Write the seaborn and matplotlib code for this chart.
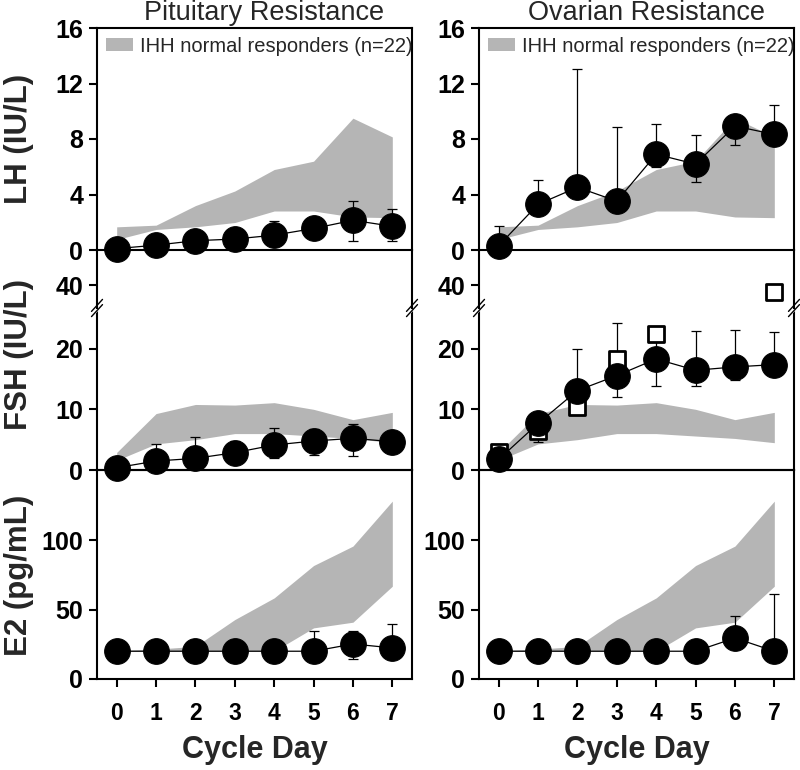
import numpy as np
import pandas as pd
import matplotlib
matplotlib.use("Agg")
import matplotlib.pyplot as plt
import seaborn as sns
from matplotlib.patches import Patch

# ---------------- data ----------------
days = [0, 1, 2, 3, 4, 5, 6, 7]
day_labels = ["0", "1", "2", "3", "4", "5", "6", "7"]

# IHH normal responders (n=22) range bands
lh_band_low = [0.76, 1.48, 1.67, 1.98, 2.81, 2.81, 2.38, 2.33]
lh_band_high = [1.67, 1.79, 3.2, 4.25, 5.8, 6.4, 9.5, 8.15]
fsh_band_low = [1.6, 4.3, 5.0, 6.0, 6.0, 5.6, 5.2, 4.5]
fsh_band_high = [2.9, 9.3, 10.8, 10.7, 11.1, 10.0, 8.3, 9.5]
e2_band_low = [20, 20, 20, 20, 20, 36.8, 40.9, 66.8]
e2_band_high = [20.5, 21.5, 23.5, 42.8, 58.4, 81.7, 95.7, 128.1]

# Pituitary resistance
pit_lh = [0.1, 0.35, 0.67, 0.79, 1.07, 1.55, 2.14, 1.71]
pit_lh_lo = [0.1, 0.3, 0.6, 0.7, 0.9, 0.83, 0.67, 0.67]
pit_lh_hi = [0.1, 0.45, 0.8, 0.95, 2.07, 2.3, 3.52, 2.98]
pit_fsh = [0.38, 1.48, 1.92, 2.86, 4.12, 4.78, 5.22, 4.67]
pit_fsh_lo = [0.38, 1.2, 1.6, 2.5, 2.03, 2.42, 2.31, 2.75]
pit_fsh_hi = [0.38, 4.23, 5.44, 4.78, 6.98, 6.7, 7.53, 5.0]
pit_e2 = [20, 20, 20, 20, 20, 20, 25.2, 22.4]
pit_e2_lo = [20, 20, 20, 20, 20, 20, 14.7, 20]
pit_e2_hi = [20, 20, 20, 20, 20, 34.9, 34.4, 39.9]

# Ovarian resistance
ova_lh = [0.31, 3.29, 4.52, 3.52, 6.9, 6.19, 8.93, 8.33]
ova_lh_lo = [0.0, 2.62, 4.52, 3.3, 6.0, 4.88, 7.57, 7.67]
ova_lh_hi = [1.74, 5.07, 13.02, 8.86, 9.05, 8.26, 9.3, 10.48]
ova_fsh = [1.75, 7.67, 13.1, 15.56, 18.3, 16.44, 16.99, 17.37]
ova_fsh_lo = [1.75, 4.66, 12.5, 12.0, 13.8, 13.9, 14.8, 16.0]
ova_fsh_hi = [1.75, 8.5, 19.95, 24.3, 23.1, 22.85, 23.1, 22.7]
ova_e2 = [20, 20, 20, 20, 20, 20, 29.5, 20]
ova_e2_lo = [20, 20, 20, 20, 20, 20, 29.5, 20]
ova_e2_hi = [20, 20, 20, 20, 20, 27.8, 45.3, 61.3]

# individual FSH values (open squares)
indiv_days = [0, 1, 2, 3, 4, 7]
indiv_fsh = [3.0, 6.4, 10.36, 18.36, 22.4, 38.8]

titles = ["Pituitary Resistance", "Ovarian Resistance"]
legend_label = "IHH normal responders (n=22)"
ylabels = ["LH (IU/L)", "FSH (IU/L)", "E2 (pg/mL)"]
xlabel = "Cycle Day"

# ---------------- style ----------------
sns.set_style("ticks")
plt.rcParams['font.family'] = ['Liberation Sans', 'DejaVu Sans']
plt.rcParams['font.weight'] = 'bold'

GRAY = '#b5b5b5'
W_PX, H_PX = 800, 770
fig = plt.figure(figsize=(8, 7.7), dpi=100)
fig.patch.set_facecolor('white')

col_left = [97, 479]
col_w = 315


def rect(left_px, top_px, bot_px):
    return [left_px / W_PX, 1 - bot_px / H_PX, col_w / W_PX, (bot_px - top_px) / H_PX]


def style(ax, yticks, ylim, xt=False):
    ax.set_facecolor('none')
    ax.set_xlim(-0.5, 7.5)
    ax.set_ylim(*ylim)
    ax.set_yticks(yticks)
    for s in ax.spines.values():
        s.set_visible(True)
        s.set_linewidth(1.5)
        s.set_color('black')
    ax.tick_params(axis='y', direction='out', length=6, width=1.5,
                   labelsize=18, pad=4, colors='black')
    if xt:
        ax.set_xticks(days)
        ax.set_xticklabels(day_labels)
        ax.tick_params(axis='x', direction='out', length=6, width=1.5,
                       labelsize=16.5, pad=10.5, colors='black')
    else:
        ax.tick_params(axis='x', bottom=False, labelbottom=False)
    for lab in ax.get_yticklabels() + ax.get_xticklabels():
        lab.set_fontweight('bold')


def draw_series(ax, y, lo, hi):
    df = pd.DataFrame({'day': days, 'val': y})
    err_lo = np.array(y) - np.array(lo)
    err_hi = np.array(hi) - np.array(y)
    ax.errorbar(days, y, yerr=[err_lo, err_hi], fmt='none', ecolor='black',
                elinewidth=0.9, capsize=3.6, capthick=0.9, zorder=3, clip_on=False)
    n0 = len(ax.lines)
    sns.lineplot(data=df, x='day', y='val', ax=ax, color='black', linewidth=0.9,
                 marker='o', markersize=18.5, markeredgecolor='black',
                 markerfacecolor='black', zorder=4)
    for ln in ax.lines[n0:]:
        ln.set_clip_on(False)
    ax.set_xlabel('')
    ax.set_ylabel('')


def band(ax, lo, hi):
    ax.fill_between(days, lo, hi, color=GRAY, linewidth=0, zorder=1)


def squares(ax):
    df = pd.DataFrame({'day': indiv_days, 'val': indiv_fsh})
    sns.scatterplot(data=df, x='day', y='val', ax=ax, marker='s', s=130,
                    facecolor='white', edgecolor='black', linewidth=2.0, zorder=3.5)
    ax.set_xlabel('')
    ax.set_ylabel('')


def break_marks(ax, ax_h_px):
    dx = 5.5 / col_w
    dy = 6.0 / ax_h_px
    for x in (0, 1):
        ax.plot([x - dx, x + dx], [1 - dy, 1 + dy], transform=ax.transAxes,
                color='white', lw=4, clip_on=False, zorder=10, solid_capstyle='butt')
        for off in (-2.6, 2.6):
            o = off / ax_h_px
            ax.plot([x - dx, x + dx], [1 - dy + o, 1 + dy + o], transform=ax.transAxes,
                    color='black', lw=1.0, clip_on=False, zorder=11)


series = [
    (pit_lh, pit_lh_lo, pit_lh_hi, pit_fsh, pit_fsh_lo, pit_fsh_hi, pit_e2, pit_e2_lo, pit_e2_hi),
    (ova_lh, ova_lh_lo, ova_lh_hi, ova_fsh, ova_fsh_lo, ova_fsh_hi, ova_e2, ova_e2_lo, ova_e2_hi),
]

top_lh, bot_lh = 28, 250
brk_px = 308
bot_fsh = 470
bot_e2 = 679

for c in range(2):
    lh, lhl, lhh, fsh, fshl, fshh, e2, e2l, e2h = series[c]
    L = col_left[c]

    # E2 first (bottom), then FSH, then LH so upper markers draw on top
    ax_e2 = fig.add_axes(rect(L, bot_fsh, bot_e2))
    ax_fl = fig.add_axes(rect(L, brk_px, bot_fsh))
    ax_fu = fig.add_axes(rect(L, bot_lh, brk_px))
    ax_lh = fig.add_axes(rect(L, top_lh, bot_lh))

    # LH
    band(ax_lh, lh_band_low, lh_band_high)
    draw_series(ax_lh, lh, lhl, lhh)
    style(ax_lh, [0, 4, 8, 12, 16], (0, 16))
    ax_lh.legend(handles=[Patch(facecolor=GRAY, edgecolor='none', label=legend_label)],
                 loc='upper left', bbox_to_anchor=(0.0, 1.0), frameon=False,
                 prop={'size': 14.5, 'weight': 'normal'}, handlelength=1.35,
                 handleheight=0.62, handletextpad=0.35, borderaxespad=0.25,
                 borderpad=0.2)

    # FSH lower
    band(ax_fl, fsh_band_low, fsh_band_high)
    if c == 1:
        squares(ax_fl)
    draw_series(ax_fl, fsh, fshl, fshh)
    style(ax_fl, [0, 10, 20], (0, 26.7))
    ax_fl.spines['top'].set_visible(False)

    # FSH upper
    if c == 1:
        squares(ax_fu)
    style(ax_fu, [40], (36.2, 45.8))
    ax_fu.spines['bottom'].set_visible(False)
    ax_fu.spines['top'].set_visible(False)
    break_marks(ax_fl, bot_fsh - brk_px)

    # E2
    band(ax_e2, e2_band_low, e2_band_high)
    draw_series(ax_e2, e2, e2l, e2h)
    style(ax_e2, [0, 50, 100], (0, 150.5), xt=True)

    # titles and x label
    fig.text((L + col_w / 2 + 10) / W_PX, 1 - 13 / H_PX, titles[c], ha='center',
             va='center', fontsize=19.5, fontweight='normal')
    fig.text((L + 158) / W_PX, 1 - 750 / H_PX, xlabel, ha='center', va='center',
             fontsize=22, fontweight='bold')

ylab_y = [139, 355, 575]
for lab, yp in zip(ylabels, ylab_y):
    fig.text(19 / W_PX, 1 - yp / H_PX, lab, rotation=90, ha='center', va='center',
             fontsize=22.5, fontweight='bold')

fig.savefig('out.png', dpi=100, facecolor='white')
